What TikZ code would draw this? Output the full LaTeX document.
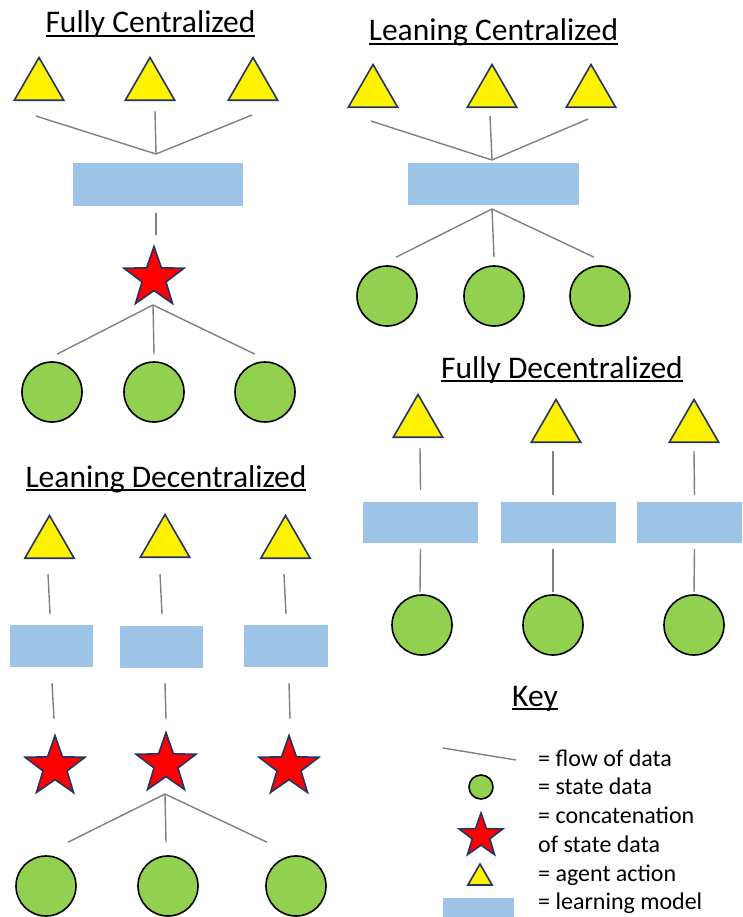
\documentclass[tikz,border=0pt]{standalone}
\usepackage{fontspec}
\setmainfont{Carlito}
\usetikzlibrary{shapes.geometric}

\definecolor{edgeblue}{RGB}{36,52,98}
\definecolor{stategreen}{RGB}{146,208,80}
\definecolor{modelblue}{RGB}{157,195,230}
\definecolor{flowgray}{RGB}{128,128,128}

\newsavebox{\headbox}
\newcommand{\headul}[1]{\sbox{\headbox}{#1}\rlap{\rule[-3.8pt]{\wd\headbox}{1.8pt}}\usebox{\headbox}}

\tikzset{
  action/.style={regular polygon, regular polygon sides=3, minimum size=57, inner sep=0pt,
    fill=yellow, draw=edgeblue, line width=1.6pt},
  concat/.style={star, star points=5, star point ratio=2.5, minimum size=63, inner sep=0pt,
    fill=red, draw=edgeblue, line width=1.6pt},
  state/.style={circle, minimum size=60, inner sep=0pt, fill=stategreen, draw=black, line width=1.6pt},
  model/.style={rectangle, fill=modelblue, inner sep=0pt},
  flow/.style={draw=flowgray, line width=1.4pt},
  heading/.style={font=\fontsize{31.5}{36}\selectfont, anchor=base, inner sep=0pt},
  keytext/.style={font=\fontsize{24}{29}\selectfont, anchor=base west, inner sep=0pt, align=left}
}

\begin{document}
\begin{tikzpicture}[x=1pt,y=-1pt]
\clip (0,0) rectangle (742,917);

% fully centralized
\node[heading] (fchead) at (150.5,33) {\headul{Fully Centralized}};
\node[action] (fct1) at (39,86) {};
\node[action] (fct2) at (150,86) {};
\node[action] (fct3) at (253,86) {};
\coordinate (fcj) at (156,154);
\node[model, minimum width=170, minimum height=43] (fcm) at (158,184.5) {};
\node[concat] (fcs) at (154,278) {};
\coordinate (fcsj) at (153,305);
\node[state] (fcc1) at (52,392) {};
\node[state] (fcc2) at (154,392) {};
\node[state] (fcc3) at (265,392) {};
\draw[flow] ([shift={(-3,15)}]fct1.south) -- (fcj);
\draw[flow] ([shift={(5,10)}]fct2.south) -- (fcj);
\draw[flow] ([shift={(-1,14)}]fct3.south) -- (fcj);
\draw[flow] ([shift={(-2,7)}]fcm.south) -- ([shift={(2,-9)}]fcs.north);
\draw[flow] (fcsj) -- ([shift={(5,-7)}]fcc1.north);
\draw[flow] (fcsj) -- ([shift={(0,-7)}]fcc2.north);
\draw[flow] (fcsj) -- ([shift={(-10,-7)}]fcc3.north);

% leaning centralized
\node[heading] (lchead) at (493.5,41) {\headul{Leaning Centralized}};
\node[action] (lct1) at (373,93) {};
\node[action] (lct2) at (492,93) {};
\node[action] (lct3) at (591,93) {};
\coordinate (lcj) at (492,160);
\node[model, minimum width=171, minimum height=42] (lcm) at (493.5,184) {};
\coordinate (lcmj) at (492,209);
\node[state] (lcc1) at (387,296) {};
\node[state] (lcc2) at (494,296) {};
\node[state] (lcc3) at (600,296) {};
\draw[flow] ([shift={(-2,13)}]lct1.south) -- (lcj);
\draw[flow] ([shift={(-2,8)}]lct2.south) -- (lcj);
\draw[flow] ([shift={(-3,11)}]lct3.south) -- (lcj);
\draw[flow] (lcmj) -- ([shift={(9,-8)}]lcc1.north);
\draw[flow] (lcmj) -- ([shift={(0,-8)}]lcc2.north);
\draw[flow] (lcmj) -- ([shift={(-6,-8)}]lcc3.north);

% fully decentralized
\node[heading] (fdhead) at (562,378) {\headul{Fully Decentralized}};
\node[action] (fdt1) at (418,423) {};
\node[action] (fdt2) at (556,428) {};
\node[action] (fdt3) at (694,428) {};
\node[model, minimum width=115, minimum height=41] (fdm1) at (420.5,522.5) {};
\node[model, minimum width=115, minimum height=41] (fdm2) at (558,522.5) {};
\node[model, minimum width=115, minimum height=41] (fdm3) at (694.5,522.5) {};
\node[state] (fdc1) at (422,625) {};
\node[state] (fdc2) at (553,625) {};
\node[state] (fdc3) at (694,625) {};
\draw[flow] ([shift={(2,10)}]fdt1.south) -- ([shift={(0,-12)}]fdm1.north);
\draw[flow] ([shift={(-3,8)}]fdt2.south) -- ([shift={(-5,-7)}]fdm2.north);
\draw[flow] ([shift={(0,8)}]fdt3.south) -- ([shift={(0,-7)}]fdm3.north);
\draw[flow] ([shift={(0,6)}]fdm1.south) -- ([shift={(-2,-2)}]fdc1.north);
\draw[flow] ([shift={(-5,6)}]fdm2.south) -- ([shift={(0,-2)}]fdc2.north);
\draw[flow] ([shift={(0,6)}]fdm3.south) -- ([shift={(0,-2)}]fdc3.north);

% leaning decentralized
\node[heading] (ldhead) at (166,487) {\headul{Leaning Decentralized}};
\node[action] (ldt1) at (49.5,544) {};
\node[action] (ldt2) at (165,543) {};
\node[action] (ldt3) at (285.5,544) {};
\node[model, minimum width=83, minimum height=42] (ldm1) at (51.5,646) {};
\node[model, minimum width=83, minimum height=42] (ldm2) at (161.5,647) {};
\node[model, minimum width=84, minimum height=42] (ldm3) at (286,646) {};
\node[concat] (lds1) at (55,767) {};
\node[concat] (lds2) at (166,764) {};
\node[concat] (lds3) at (289,767) {};
\coordinate (ldj) at (165,794);
\node[state] (ldc1) at (46,886) {};
\node[state] (ldc2) at (168,886) {};
\node[state] (ldc3) at (296,886) {};
\draw[flow] ([shift={(-1.5,15)}]ldt1.south) -- ([shift={(-1.5,-11)}]ldm1.north);
\draw[flow] ([shift={(-5,16)}]ldt2.south) -- ([shift={(0.5,-12)}]ldm2.north);
\draw[flow] ([shift={(-1.5,15)}]ldt3.south) -- ([shift={(0,-11)}]ldm3.north);
\draw[flow] ([shift={(0.5,16)}]ldm1.south) -- ([shift={(-1,-14)}]lds1.north);
\draw[flow] ([shift={(3.5,15)}]ldm2.south) -- ([shift={(0,-11)}]lds2.north);
\draw[flow] ([shift={(3,16)}]ldm3.south) -- ([shift={(1,-14)}]lds3.north);
\draw[flow] (ldj) -- ([shift={(22,-13)}]ldc1.north);
\draw[flow] (ldj) -- ([shift={(-2,-13)}]ldc2.north);
\draw[flow] (ldj) -- ([shift={(-29,-13)}]ldc3.north);

% key
\node[heading] (keyhead) at (535,706) {\headul{Key}};
\coordinate (kflowa) at (443,748);
\coordinate (kflowb) at (516,760);
\draw[flow] (kflowa) -- (kflowb);
\node[state, minimum size=24] (kstate) at (481,787) {};
\node[concat, minimum size=46] (kconcat) at (481,836) {};
\node[action, minimum size=28] (kaction) at (480,878) {};
\node[model, minimum width=71, minimum height=22] (kmodel) at (478.5,909) {};
\node[keytext] (kflowtext) at (538,766) {= flow of data};
\node[keytext] (kstatetext) at (538,794) {= state data};
\node[keytext] (kconcattext) at (538,823) {= concatenation};
\node[keytext] (kconcattext2) at (538,852) {of state data};
\node[keytext] (kactiontext) at (538,881) {= agent action};
\node[keytext] (kmodeltext) at (538,909) {= learning model};
\end{tikzpicture}
\end{document}
